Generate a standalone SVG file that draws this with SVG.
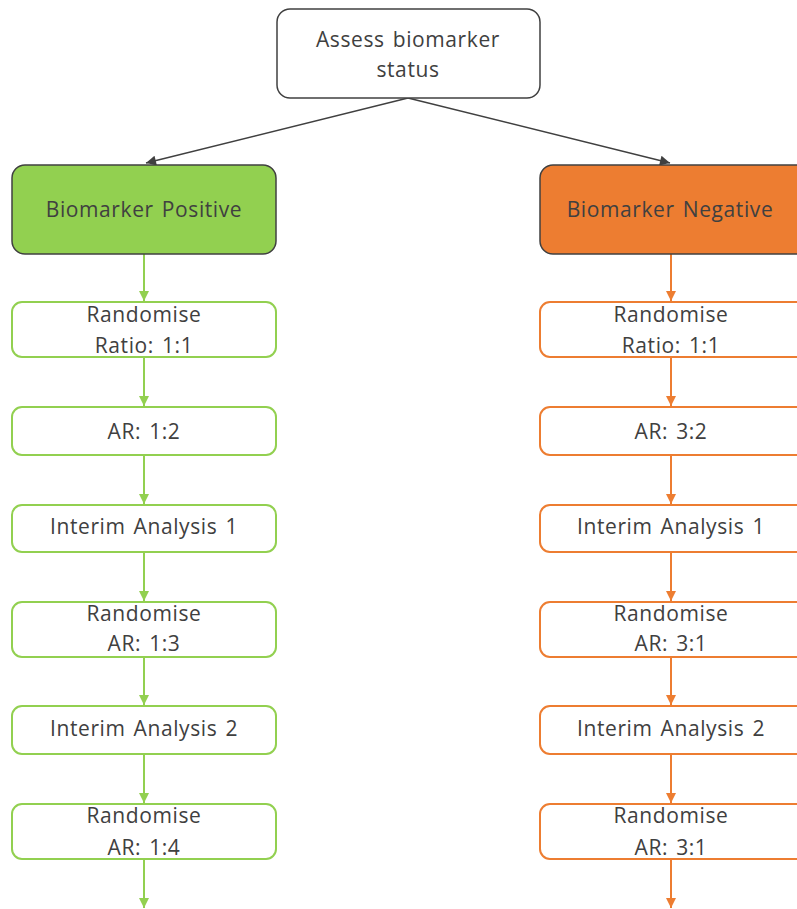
<svg xmlns="http://www.w3.org/2000/svg" width="797" height="909" viewBox="0 0 797 909">
  <style>
    text { font-family: "Open Sans", "Noto Sans", sans-serif; font-size: 21px; letter-spacing: 0.6px; word-spacing: 2px; fill: #404040; text-anchor: middle; }
    .root { fill: #ffffff; stroke: #404040; stroke-width: 1.5; }
    .posHead { fill: #92d050; stroke: #404040; stroke-width: 1.5; }
    .negHead { fill: #ed7d31; stroke: #404040; stroke-width: 1.5; }
    .pos { fill: #ffffff; stroke: #92d050; stroke-width: 2; }
    .neg { fill: #ffffff; stroke: #ed7d31; stroke-width: 2; }
    .cDark { stroke: #404040; stroke-width: 1.5; fill: none; }
    .cPos { stroke: #92d050; stroke-width: 2; fill: none; }
    .cNeg { stroke: #ed7d31; stroke-width: 2; fill: none; }
  </style>
  <defs>
    <marker id="arrDark" viewBox="0 0 10 10" refX="10" refY="5" markerWidth="11" markerHeight="10" markerUnits="userSpaceOnUse" orient="auto">
      <path d="M0,0 L10,5 L0,10 Z" fill="#404040"/>
    </marker>
    <marker id="arrPos" viewBox="0 0 10 10" refX="10" refY="5" markerWidth="11" markerHeight="10" markerUnits="userSpaceOnUse" orient="auto">
      <path d="M0,0 L10,5 L0,10 Z" fill="#92d050"/>
    </marker>
    <marker id="arrNeg" viewBox="0 0 10 10" refX="10" refY="5" markerWidth="11" markerHeight="10" markerUnits="userSpaceOnUse" orient="auto">
      <path d="M0,0 L10,5 L0,10 Z" fill="#ed7d31"/>
    </marker>
  </defs>

  <g id="connectors">
    <line class="cDark" x1="408" y1="98" x2="146" y2="163" marker-end="url(#arrDark)"/>
    <line class="cDark" x1="408" y1="98" x2="670" y2="163" marker-end="url(#arrDark)"/>
    <line class="cPos" x1="144" y1="254" x2="144" y2="301" marker-end="url(#arrPos)"/>
    <line class="cPos" x1="144" y1="357" x2="144" y2="406" marker-end="url(#arrPos)"/>
    <line class="cPos" x1="144" y1="455" x2="144" y2="504" marker-end="url(#arrPos)"/>
    <line class="cPos" x1="144" y1="552" x2="144" y2="601" marker-end="url(#arrPos)"/>
    <line class="cPos" x1="144" y1="657" x2="144" y2="705" marker-end="url(#arrPos)"/>
    <line class="cPos" x1="144" y1="754" x2="144" y2="803" marker-end="url(#arrPos)"/>
    <line class="cPos" x1="144" y1="859" x2="144" y2="908" marker-end="url(#arrPos)"/>
    <line class="cNeg" x1="671" y1="254" x2="671" y2="301" marker-end="url(#arrNeg)"/>
    <line class="cNeg" x1="671" y1="357" x2="671" y2="406" marker-end="url(#arrNeg)"/>
    <line class="cNeg" x1="671" y1="455" x2="671" y2="504" marker-end="url(#arrNeg)"/>
    <line class="cNeg" x1="671" y1="552" x2="671" y2="601" marker-end="url(#arrNeg)"/>
    <line class="cNeg" x1="671" y1="657" x2="671" y2="705" marker-end="url(#arrNeg)"/>
    <line class="cNeg" x1="671" y1="754" x2="671" y2="803" marker-end="url(#arrNeg)"/>
    <line class="cNeg" x1="671" y1="859" x2="671" y2="908" marker-end="url(#arrNeg)"/>
  </g>

  <g id="assess">
    <rect class="root" x="277" y="9" width="263" height="89" rx="13"/>
    <text x="408" y="47">Assess biomarker</text>
    <text x="408" y="77">status</text>
  </g>

  <g id="positive">
    <rect class="posHead" x="12" y="165" width="264" height="89" rx="13"/>
    <text x="144" y="217">Biomarker Positive</text>
  </g>
  <g id="negative">
    <rect class="negHead" x="540" y="165" width="270" height="89" rx="13"/>
    <text x="670" y="217">Biomarker Negative</text>
  </g>

  <g id="pos-randomise-1">
    <rect class="pos" x="12" y="302" width="264" height="55" rx="10"/>
    <text x="144" y="322">Randomise</text>
    <text x="144" y="353">Ratio: 1:1</text>
  </g>
  <g id="pos-ar-1">
    <rect class="pos" x="12" y="407" width="264" height="48" rx="10"/>
    <text x="144" y="439">AR: 1:2</text>
  </g>
  <g id="pos-interim-1">
    <rect class="pos" x="12" y="505" width="264" height="47" rx="10"/>
    <text x="144" y="534">Interim Analysis 1</text>
  </g>
  <g id="pos-randomise-2">
    <rect class="pos" x="12" y="602" width="264" height="55" rx="10"/>
    <text x="144" y="621">Randomise</text>
    <text x="144" y="651">AR: 1:3</text>
  </g>
  <g id="pos-interim-2">
    <rect class="pos" x="12" y="706" width="264" height="48" rx="10"/>
    <text x="144" y="736">Interim Analysis 2</text>
  </g>
  <g id="pos-randomise-3">
    <rect class="pos" x="12" y="804" width="264" height="55" rx="10"/>
    <text x="144" y="823">Randomise</text>
    <text x="144" y="855">AR: 1:4</text>
  </g>

  <g id="neg-randomise-1">
    <rect class="neg" x="540" y="302" width="270" height="55" rx="10"/>
    <text x="671" y="322">Randomise</text>
    <text x="671" y="353">Ratio: 1:1</text>
  </g>
  <g id="neg-ar-1">
    <rect class="neg" x="540" y="407" width="270" height="48" rx="10"/>
    <text x="671" y="439">AR: 3:2</text>
  </g>
  <g id="neg-interim-1">
    <rect class="neg" x="540" y="505" width="270" height="47" rx="10"/>
    <text x="671" y="534">Interim Analysis 1</text>
  </g>
  <g id="neg-randomise-2">
    <rect class="neg" x="540" y="602" width="270" height="55" rx="10"/>
    <text x="671" y="621">Randomise</text>
    <text x="671" y="651">AR: 3:1</text>
  </g>
  <g id="neg-interim-2">
    <rect class="neg" x="540" y="706" width="270" height="48" rx="10"/>
    <text x="671" y="736">Interim Analysis 2</text>
  </g>
  <g id="neg-randomise-3">
    <rect class="neg" x="540" y="804" width="270" height="55" rx="10"/>
    <text x="671" y="823">Randomise</text>
    <text x="671" y="855">AR: 3:1</text>
  </g>
</svg>
